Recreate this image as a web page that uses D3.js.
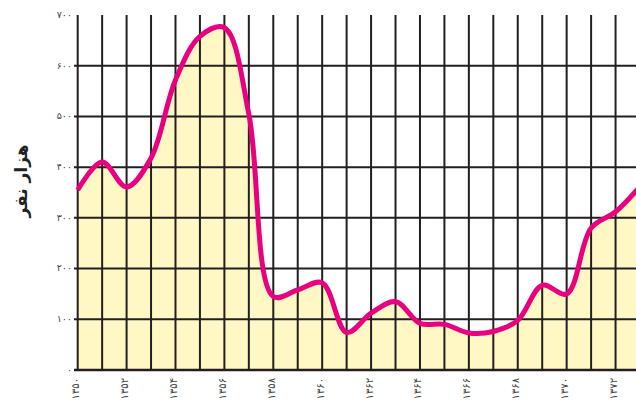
<!DOCTYPE html>
<html>
<head>
<meta charset="utf-8">
<script src="https://cdn.jsdelivr.net/npm/d3@7"></script>
<style>
  html, body { margin: 0; padding: 0; background: #fff; }
  svg { display: block; }
</style>
</head>
<body>
<svg id="chart" width="636" height="400"></svg>
<script>
// ---- data ----
const years = [1350, 1351, 1352, 1353, 1354, 1355, 1356, 1357, 1358, 1359, 1360, 1361,
               1362, 1363, 1364, 1365, 1366, 1367, 1368, 1369, 1370, 1371, 1372, 1373];
const values = [355, 410, 361, 418, 572, 658, 675, 505, 145, 158, 172, 74,
                112, 135, 92, 90, 73, 76, 98, 167, 150, 280, 312, 362];
const xTickYears = [1350, 1352, 1354, 1356, 1358, 1360, 1362, 1364, 1366, 1368, 1370, 1372];
const xTickLabels = ["۱۳۵۰", "۱۳۵۲", "۱۳۵۴", "۱۳۵۶", "۱۳۵۸", "۱۳۶۰", "۱۳۶۲", "۱۳۶۴", "۱۳۶۶", "۱۳۶۸", "۱۳۷۰", "۱۳۷۲"];
const yTicks = [0, 100, 200, 300, 400, 500, 600, 700];
const yTickLabels = ["۰", "۱۰۰", "۲۰۰", "۳۰۰", "۴۰۰", "۵۰۰", "۶۰۰", "۷۰۰"];
const yTitle = "هزار نفر";

// ---- layout ----
const svg = d3.select("#chart");
const x = d3.scaleLinear().domain([1350, 1373]).range([77.7, 640]);
const y = d3.scaleLinear().domain([0, 700]).range([370, 15]);
const gridColor = "#231f20";
const data = years.map((yr, i) => ({ yr, v: values[i] }));
const curve = d3.curveCatmullRom.alpha(0.5);

// fill
svg.append("path")
  .datum(data)
  .attr("fill", "#fff7c4")
  .attr("d", d3.area().x(d => x(d.yr)).y0(y(0)).y1(d => y(d.v)).curve(curve));

// vertical grid (every year)
svg.append("g").selectAll("line")
  .data(d3.range(1350, 1374))
  .join("line")
  .attr("x1", d => x(d)).attr("x2", d => x(d))
  .attr("y1", y(700)).attr("y2", y(0) + 1)
  .attr("stroke", gridColor).attr("stroke-width", 2);

// horizontal grid
svg.append("g").selectAll("line")
  .data(yTicks.filter(t => t < 700))
  .join("line")
  .attr("x1", 74).attr("x2", 636)
  .attr("y1", d => y(d)).attr("y2", d => y(d))
  .attr("stroke", gridColor).attr("stroke-width", d => d === 0 ? 2.6 : 2);

// line
svg.append("path")
  .datum(data)
  .attr("fill", "none")
  .attr("stroke", "#e8007f")
  .attr("stroke-width", 5)
  .attr("stroke-linejoin", "round")
  .attr("d", d3.line().x(d => x(d.yr)).y(d => y(d.v)).curve(curve));

// y tick labels
svg.append("g").selectAll("text")
  .data(yTicks)
  .join("text")
  .attr("x", 72)
  .attr("y", d => y(d))
  .attr("dy", "0.3em")
  .attr("text-anchor", "end")
  .attr("font-family", "DejaVu Sans")
  .attr("font-size", 9.5)
  .attr("fill", "#444")
  .text((d, i) => yTickLabels[i]);

// x tick labels
svg.append("g").selectAll("text")
  .data(xTickYears)
  .join("text")
  .attr("transform", d => `translate(${x(d) - 2},378) rotate(-90)`)
  .attr("dy", "0.35em")
  .attr("text-anchor", "end")
  .attr("font-family", "DejaVu Sans")
  .attr("font-size", 10)
  .attr("fill", "#444")
  .text((d, i) => xTickLabels[i]);

// y title
svg.append("text")
  .attr("transform", "translate(21,181) rotate(-90)")
  .attr("dy", "0.35em")
  .attr("text-anchor", "middle")
  .attr("font-family", "DejaVu Sans")
  .attr("font-weight", "bold")
  .attr("font-size", 17)
  .attr("fill", "#222")
  .text(yTitle);
</script>
</body>
</html>
